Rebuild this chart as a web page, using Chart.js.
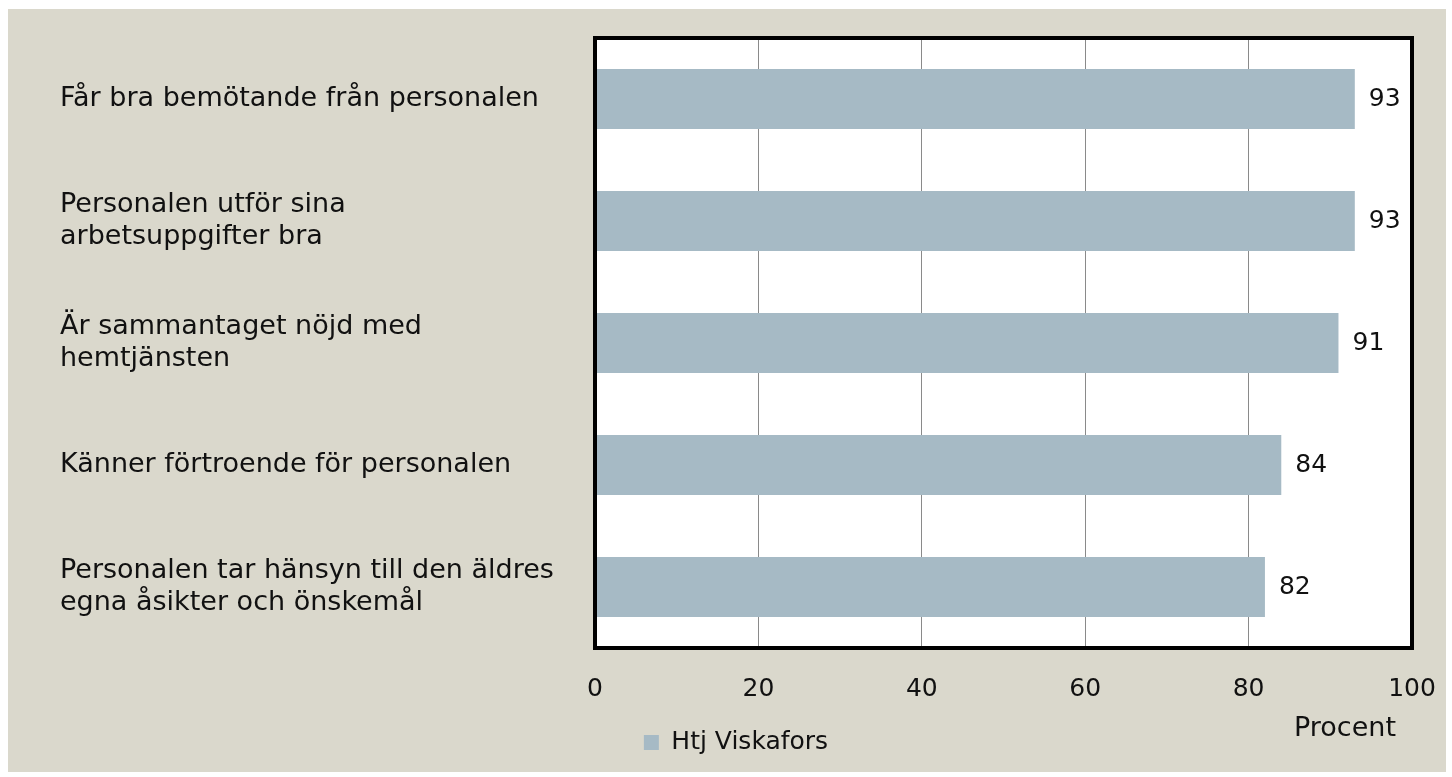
<!DOCTYPE html>
<html>
<head>
<meta charset="utf-8">
<script src="https://cdn.jsdelivr.net/npm/chart.js@4/dist/chart.umd.min.js"></script>
<style>
  html, body { margin: 0; padding: 0; background: #ffffff; }
  #wrap { width: 1452px; height: 777px; }
</style>
</head>
<body>
<div id="wrap"><canvas id="chart" width="1452" height="777"></canvas></div>
<script>
// Data
const categories = [
  'Får bra bemötande från personalen',
  ['Personalen utför sina', 'arbetsuppgifter bra'],
  ['Är sammantaget nöjd med', 'hemtjänsten'],
  'Känner förtroende för personalen',
  ['Personalen tar hänsyn till den äldres', 'egna åsikter och önskemål']
];
const seriesName = 'Htj Viskafors';
const values = [93, 93, 91, 84, 82];
const xTicks = [0, 20, 40, 60, 80, 100];
const axisTitle = 'Procent';

const FONT = "'DejaVu Sans', sans-serif";
const BG = '#dad8cc';
const BAR = '#a6bac5';
const TEXT = '#111111';

// Background, white plot area, black frame, value labels, axis title
const decor = {
  id: 'decor',
  beforeDraw(chart) {
    const ctx = chart.ctx;
    const a = chart.chartArea;
    ctx.save();
    ctx.fillStyle = '#ffffff';
    ctx.fillRect(0, 0, chart.width, chart.height);
    ctx.fillStyle = BG;
    ctx.fillRect(8, 9, chart.width - 14, chart.height - 14);
    ctx.fillStyle = '#ffffff';
    ctx.fillRect(a.left, a.top, a.right - a.left, a.bottom - a.top);
    ctx.restore();
  },
  afterDraw(chart) {
    const ctx = chart.ctx;
    const a = chart.chartArea;
    ctx.save();
    ctx.strokeStyle = '#000000';
    ctx.lineWidth = 4;
    ctx.strokeRect(a.left, a.top, a.right - a.left, a.bottom - a.top);

    // value labels
    ctx.fillStyle = TEXT;
    ctx.font = '25px ' + FONT;
    ctx.textAlign = 'left';
    ctx.textBaseline = 'middle';
    const meta = chart.getDatasetMeta(0);
    meta.data.forEach((bar, i) => {
      ctx.fillText(String(values[i]), bar.x + 14, bar.y);
    });

    // axis title
    const xs = chart.scales.x;
    ctx.font = '27px ' + FONT;
    ctx.textAlign = 'center';
    ctx.fillText(axisTitle, xs.getPixelForValue(100) - 67, 729);
    ctx.restore();
  }
};

new Chart(document.getElementById('chart'), {
  type: 'bar',
  data: {
    labels: categories,
    datasets: [{
      label: seriesName,
      data: values,
      backgroundColor: BAR,
      borderWidth: 0,
      barPercentage: 0.49,
      categoryPercentage: 1
    }]
  },
  options: {
    indexAxis: 'y',
    responsive: false,
    animation: false,
    layout: { padding: { left: 60, right: 40, top: 38, bottom: 12 } },
    scales: {
      x: {
        min: 0,
        max: 100,
        afterBuildTicks(scale) { scale.ticks = xTicks.map(v => ({ value: v })); },
        afterFit(scale) { scale.height = 72; },
        grid: { color: '#8a8a8a', lineWidth: 1, drawTicks: true, tickLength: 24, tickColor: 'rgba(0,0,0,0)' },
        border: { display: false },
        ticks: { color: TEXT, font: { family: FONT, size: 25 }, padding: 2 }
      },
      y: {
        afterFit(scale) { scale.width = 535; },
        grid: { display: false, drawTicks: false },
        border: { display: false },
        ticks: {
          color: TEXT,
          crossAlign: 'far',
          padding: 0,
          font: { family: FONT, size: 27, lineHeight: 1.22 }
        }
      }
    },
    plugins: {
      legend: {
        position: 'bottom',
        labels: {
          color: TEXT,
          font: { family: FONT, size: 25 },
          boxWidth: 15,
          boxHeight: 15,
          padding: 10
        }
      },
      tooltip: { enabled: false }
    }
  },
  plugins: [decor]
});
</script>
</body>
</html>
